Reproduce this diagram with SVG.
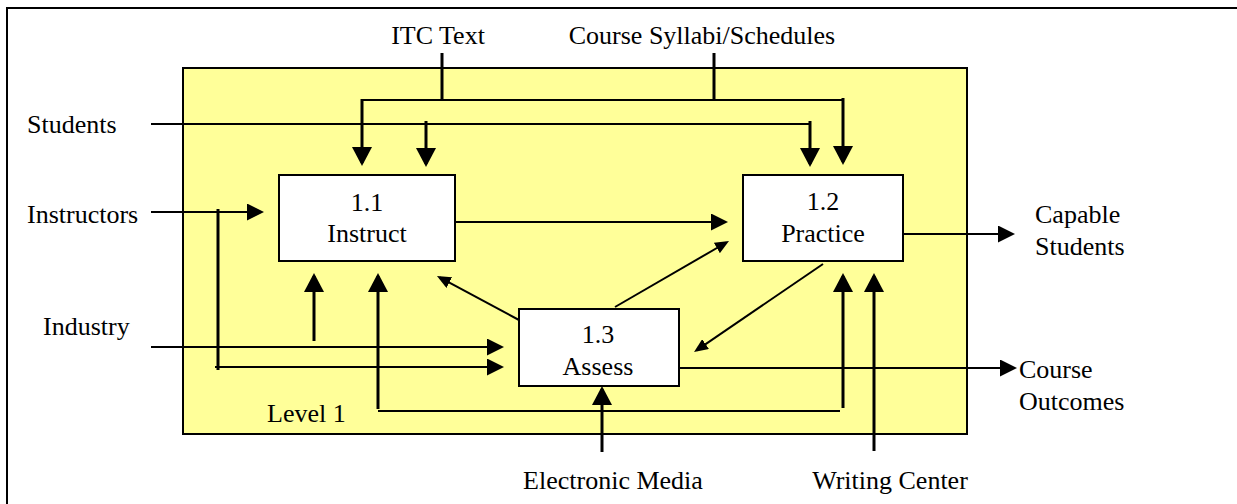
<svg xmlns="http://www.w3.org/2000/svg" width="1237" height="504" viewBox="0 0 1237 504">
<style>
text{font-family:'Liberation Serif','DejaVu Serif',serif;font-size:26px;fill:#000}
.mid{text-anchor:middle}
.box{fill:#fff;stroke:#000;stroke-width:2}
.thin{fill:none;stroke:#000;stroke-width:2}
.thick{fill:none;stroke:#000;stroke-width:3}
</style>
<defs>
<marker id="ab" markerUnits="userSpaceOnUse" viewBox="0 0 19 20" markerWidth="19" markerHeight="20" refX="16" refY="10" orient="auto"><path d="M0,0 L19,10 L0,20 z" fill="#000"/></marker>
<marker id="am" markerUnits="userSpaceOnUse" viewBox="0 0 17 17" markerWidth="17" markerHeight="17" refX="14" refY="8.5" orient="auto"><path d="M0,0 L17,8.5 L0,17 z" fill="#000"/></marker>
<marker id="as" markerUnits="userSpaceOnUse" viewBox="0 0 14 12" markerWidth="14" markerHeight="12" refX="11" refY="6" orient="auto"><path d="M0,0 L14,6 L0,12 z" fill="#000"/></marker>
</defs>
<rect x="7" y="8" width="1240" height="510" fill="#fff" stroke="#000" stroke-width="2"/>
<g id="level1">
<rect x="183" y="68" width="784" height="366" fill="#ffff99" stroke="#000" stroke-width="2"/>
<text x="267" y="422" font-family="Liberation Serif, serif">Level 1</text>
</g>
<g id="connectors">
<path class="thick" d="M442,53 V100"/>
<path class="thick" d="M714,53 V100"/>
<path class="thin" d="M361,100 H843"/>
<path class="thick" d="M362,99 V163" marker-end="url(#ab)"/>
<path class="thick" d="M843,98 V162" marker-end="url(#ab)"/>
<path class="thin" d="M151,124 H810"/>
<path class="thick" d="M426,121 V164" marker-end="url(#ab)"/>
<path class="thick" d="M810,121 V164" marker-end="url(#ab)"/>
<path class="thin" d="M151,212 H261" marker-end="url(#am)"/>
<path class="thick" d="M218,209 V370"/>
<path class="thin" d="M215,367 H501" marker-end="url(#am)"/>
<path class="thin" d="M151,347 H501" marker-end="url(#am)"/>
<path class="thick" d="M314,341 V276" marker-end="url(#ab)"/>
<path class="thin" d="M378,411 H840"/>
<path class="thick" d="M378,409 V276" marker-end="url(#ab)"/>
<path class="thick" d="M843,408 V276" marker-end="url(#ab)"/>
<path class="thin" d="M455,222 H725" marker-end="url(#am)"/>
<path class="thin" d="M903,234 H1012" marker-end="url(#am)"/>
<path class="thin" d="M679,368 H1014" marker-end="url(#am)"/>
<path class="thick" d="M602,452 V389" marker-end="url(#ab)"/>
<path class="thick" d="M874,451 V276" marker-end="url(#ab)"/>
<path class="thin" d="M519,320 L439.6,277.4" marker-end="url(#as)"/>
<path class="thin" d="M615,307 L726.4,242.5" marker-end="url(#as)"/>
<path class="thin" d="M823,264 L696.5,350.3" marker-end="url(#as)"/>
</g>
<g id="n11"><rect class="box" x="279" y="175" width="176" height="86"/><text class="mid" x="367" y="211">1.1</text><text class="mid" x="367" y="242">Instruct</text></g>
<g id="n12"><rect class="box" x="743" y="175" width="160" height="86"/><text class="mid" x="823" y="210">1.2</text><text class="mid" x="823" y="242">Practice</text></g>
<g id="n13"><rect class="box" x="519" y="309" width="160" height="77"/><text class="mid" x="598" y="343">1.3</text><text class="mid" x="598" y="375">Assess</text></g>
<g id="itc"><text class="mid" x="438" y="44">ITC Text</text></g>
<g id="syllabi"><text class="mid" x="702" y="44">Course Syllabi/Schedules</text></g>
<g id="students"><text x="27" y="133">Students</text></g>
<g id="instructors"><text x="27" y="223">Instructors</text></g>
<g id="industry"><text x="43" y="335">Industry</text></g>
<g id="capable"><text x="1035" y="223">Capable</text><text x="1035" y="255">Students</text></g>
<g id="outcomes"><text x="1019" y="378">Course</text><text x="1019" y="410">Outcomes</text></g>
<g id="media"><text class="mid" x="613" y="489">Electronic Media</text></g>
<g id="writing"><text class="mid" x="890" y="489">Writing Center</text></g>
</svg>
